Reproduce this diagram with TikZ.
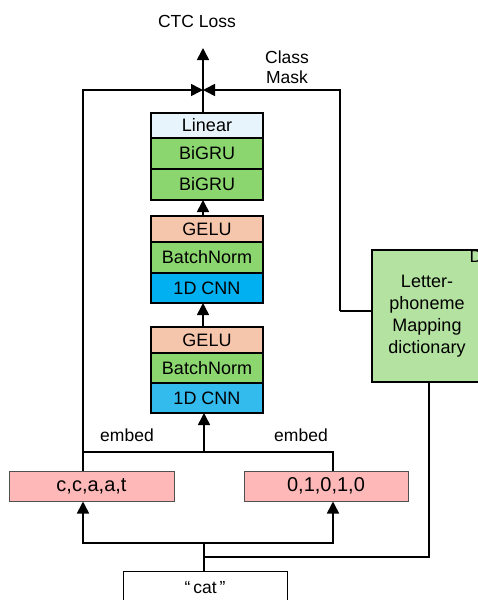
\documentclass[tikz,border=0pt]{standalone}
\usepackage{fontspec}
\setmainfont{Liberation Sans}
\usetikzlibrary{arrows.meta}

\definecolor{linfill}{RGB}{232,244,251}
\definecolor{grufill}{RGB}{140,214,112}
\definecolor{gelufill}{RGB}{246,198,172}
\definecolor{cnnA}{RGB}{0,176,240}
\definecolor{cnnB}{RGB}{51,187,238}
\definecolor{pinkfill}{RGB}{255,184,184}
\definecolor{dictfill}{RGB}{180,226,160}
\definecolor{edgegray}{RGB}{80,80,80}

\begin{document}
\begin{tikzpicture}[x=1pt,y=-1pt,
  font=\fontsize{17.5}{21}\selectfont,
  layer/.style={draw=black,line width=1.6pt,minimum width=112pt,inner sep=0pt,outer sep=0pt,
    font=\fontsize{18}{21}\selectfont},
  inbox/.style={draw=edgegray,line width=1pt,fill=pinkfill,minimum width=165pt,minimum height=30pt,inner sep=0pt,
    font=\fontsize{20}{24}\selectfont},
  conn/.style={line width=1.6pt},
  arr/.style={conn,-{Triangle[length=12pt,width=12pt]}},
  lbl/.style={inner sep=0pt}]
\useasboundingbox (0,0) rectangle (477,600);

% output head
\node[layer,fill=linfill,minimum height=25pt] (lin) at (207,125.5) {Linear};
\node[layer,fill=grufill,minimum height=31pt] (gru1) at (207,153.5) {BiGRU};
\node[layer,fill=grufill,minimum height=31pt] (gru2) at (207,184.5) {BiGRU};

% upper convolution block
\node[layer,fill=gelufill,minimum height=26pt] (gelu2) at (207,229) {GELU};
\node[layer,fill=grufill,minimum height=31pt] (bn2) at (207,257.5) {BatchNorm};
\node[layer,fill=cnnA,minimum height=30pt] (cnn2) at (207,288) {1D CNN};

% lower convolution block
\node[layer,fill=gelufill,minimum height=26pt] (gelu1) at (207,340) {GELU};
\node[layer,fill=grufill,minimum height=30pt] (bn1) at (207,368) {BatchNorm};
\node[layer,fill=cnnB,minimum height=30pt] (cnn1) at (207,398) {1D CNN};

% inputs
\node[inbox] (chars) at (91.5,486) {c,c,a,a,t};
\node[inbox,minimum width=164pt] (bits) at (326,486) {0,1,0,1,0};
\node[draw=black,line width=1pt,minimum width=164pt,minimum height=49pt,inner sep=0pt] (catbox) at (205,595.5) {};
\node[lbl] (catlabel) at (205,588) {“\,cat\,”};

% dictionary
\node[draw=black,line width=1.6pt,fill=dictfill,minimum width=110pt,minimum height=132pt,inner sep=0pt] (dict) at (427,316) {};
\node[lbl,align=center,font=\fontsize{18}{22}\selectfont] (dicttext) at (427,316) {Letter-\\phoneme\\Mapping\\dictionary};
\node[lbl,anchor=base west] (dtag) at (469.3,262.7) {D};

% labels
\node[lbl] (ctc) at (197,21) {CTC Loss};
\node[lbl,align=center,font=\fontsize{17.5}{20}\selectfont] (mask) at (287,67) {Class\\Mask};
\node[lbl] (emb1) at (127,435) {embed};
\node[lbl] (emb2) at (301,435) {embed};

% routing points
\coordinate (J) at (203,90);
\coordinate (top) at (203,48);
\coordinate (lt) at (83,90);
\coordinate (rt) at (340,90);
\coordinate (e1) at (83,452);
\coordinate (e2) at (333,452);
\coordinate (ec) at (204,452);
\coordinate (b1) at (83,543);
\coordinate (b2) at (333,543);
\coordinate (bc) at (204,543);
\coordinate (bd) at (204,557);
\coordinate (d2) at (429,557);
\coordinate (dw) at (340,311);

% head to loss
\draw[conn] (lin.north -| J) -- (J);
\draw[arr] (J) -- (top);
\draw[arr] (chars.north -| lt) -- (lt) -- (J);
\draw[conn] (dict.west |- dw) -- (dw);
\draw[arr] (dw) -- (rt) -- (J);

% between blocks
\draw[arr] (gelu2.north -| J) -- (gru2.south -| J);
\draw[arr] (gelu1.north -| J) -- (cnn2.south -| J);

% embeddings into the convolution stack
\draw[conn] (e1) -- (e2) -- (bits.north -| e2);
\draw[arr] (ec) -- (cnn1.south -| ec);

% input fan-out
\draw[conn] (catbox.north -| bc) -- (bc);
\draw[arr] (b2) -- (b1) -- (chars.south -| b1);
\draw[arr] (b1) -- (b2) -- (bits.south -| b2);
\draw[conn] (dict.south -| d2) -- (d2) -- (bd);
\end{tikzpicture}
\end{document}
